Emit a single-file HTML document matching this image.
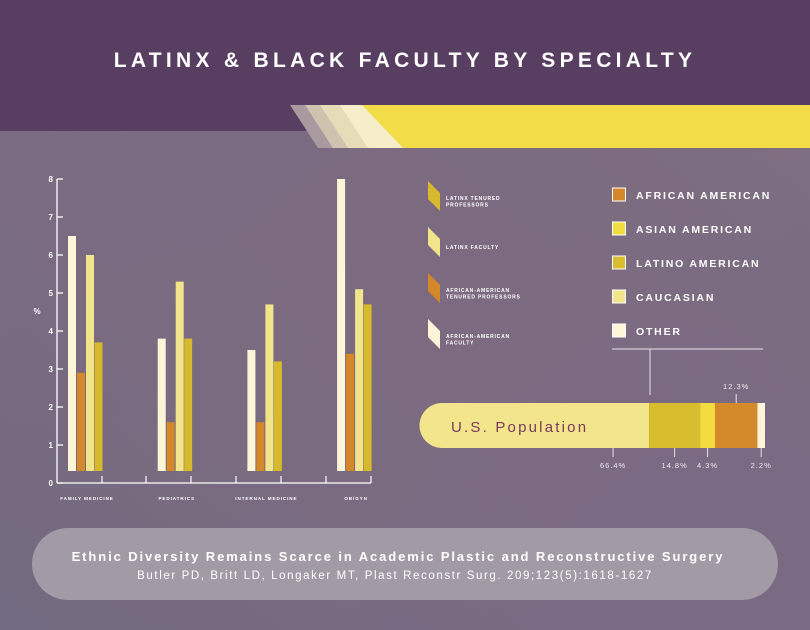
<!DOCTYPE html>
<html><head><meta charset="utf-8"><style>
html,body{margin:0;padding:0;width:810px;height:630px;overflow:hidden;font-family:"Liberation Sans",sans-serif}
</style></head><body>
<svg id="s" width="810" height="630" viewBox="0 0 810 630" xmlns="http://www.w3.org/2000/svg">
<defs>
<linearGradient id="bg" x1="0" y1="0" x2="1" y2="1">
<stop offset="0" stop-color="#7a6b84"/><stop offset="0.5" stop-color="#7c6b80"/><stop offset="1" stop-color="#7a6a85"/>
</linearGradient>
<linearGradient id="bg2" x1="0" y1="1" x2="1" y2="0">
<stop offset="0" stop-color="#6a6a80" stop-opacity="0.6"/><stop offset="0.5" stop-color="#7a6a80" stop-opacity="0"/><stop offset="1" stop-color="#85797f" stop-opacity="0.4"/>
</linearGradient>
</defs>
<rect width="810" height="630" fill="url(#bg)"/>
<rect width="810" height="630" fill="url(#bg2)"/>
<rect width="810" height="131" fill="#583f62"/>
<g>
<polygon points="290,105 340,105 368,148 318,148" fill="#a89a9e"/>
<polygon points="305,105 350,105 378,148 333,148" fill="#cfc3b0"/>
<polygon points="320,105 362,105 390,148 348,148" fill="#e6dcb8"/>
<polygon points="340,105 375,105 403,148 368,148" fill="#f6eec8"/>
<polygon points="362,105 810,105 810,148 403,148" fill="#f2dd48"/>
</g>
<text x="405" y="67" text-anchor="middle" fill="#fff" font-size="21" font-weight="bold" letter-spacing="4.3">LATINX &amp; BLACK FACULTY BY SPECIALTY</text>
<g id="chart"></g>
<g id="legL"></g>
<g id="legR"></g>
<g id="pop"></g>
<line x1="612" y1="349" x2="763" y2="349" stroke="#e8e0e8" stroke-width="1"/>
<line x1="650" y1="349" x2="650" y2="395" stroke="#e8e0e8" stroke-width="1"/>
<rect x="32" y="528" width="746" height="72" rx="36" fill="#a29aa5"/>
<text x="398" y="561" text-anchor="middle" fill="#fff" font-size="13" font-weight="bold" letter-spacing="1.9">Ethnic Diversity Remains Scarce in Academic Plastic and Reconstructive Surgery</text>
<text x="395" y="579" text-anchor="middle" fill="#fff" font-size="11.5" letter-spacing="1.6">Butler PD, Britt LD, Longaker MT, Plast Reconstr Surg. 209;123(5):1618-1627</text>
</svg>
<script>
const categories=["FAMILY MEDICINE","PEDIATRICS","INTERNAL MEDICINE","OB/GYN"];
const aaFaculty=[6.5,3.8,3.5,8.0];
const aaTenured=[2.9,1.6,1.6,3.4];
const latinxFaculty=[6.0,5.3,4.7,5.1];
const latinxTenured=[3.7,3.8,3.2,4.7];
const yTicks=[0,1,2,3,4,5,6,7,8];
const popLabels=["Caucasian","Latino American","Asian American","African American","Other"];
const popValues=[66.4,14.8,4.3,12.3,2.2];
const popTickText=["66.4%","14.8%","4.3%","12.3%","2.2%"];

const NS="http://www.w3.org/2000/svg";
function mk(tag,attrs,parent,txt){const e=document.createElementNS(NS,tag);for(const k in attrs)e.setAttribute(k,attrs[k]);if(txt!==undefined)e.textContent=txt;parent.appendChild(e);return e;}
const y=v=>483-v*38;
const gx=i=>68+i*89.7;
const chart=document.getElementById('chart');
let ax=mk('line',{x1:57,y1:179,x2:57,y2:483,stroke:'#fff','stroke-width':1.3},chart);


let bx=mk('line',{x1:57,y1:483,x2:371,y2:483,stroke:'#fff','stroke-width':1.3},chart);


yTicks.forEach(t=>{
  let l=mk('line',{x1:57,y1:y(t),x2:63,y2:y(t),stroke:'#fff','stroke-width':1.3},chart);
  
  
  let tx=mk('text',{x:53,y:y(t)+3,'text-anchor':'end',fill:'#fff','font-size':8,'font-weight':'bold'},chart,String(t));
  
  
});
let yt=mk('text',{x:37,y:314,'text-anchor':'middle',fill:'#fff','font-size':8,'font-weight':'bold'},chart,'%');


[102,146,191,236,281,326,371].forEach(px=>{
  let l=mk('line',{x1:px,y1:476,x2:px,y2:483,stroke:'#fff','stroke-width':1.2},chart);
  
  
});
const series=[[aaFaculty,'#fdf5d8',0],[aaTenured,'#d4882a',9],[latinxFaculty,'#f2e48a',18],[latinxTenured,'#d6b92c',26.5]];
categories.forEach((c,i)=>{
  series.forEach((s,j)=>{
    const v=s[0][i];
    let r=mk('rect',{x:gx(i)+s[2],y:y(v),width:8,height:471-y(v),fill:s[1]},chart);
    
    
  });
  let t=mk('text',{x:gx(i)+19,y:500,'text-anchor':'middle',fill:'#fff','font-size':4.6,'font-weight':'bold','letter-spacing':0.9},chart,c);
  
  
});
const legL=document.getElementById('legL');
const legItems=[['#d6b92c',['LATINX TENURED','PROFESSORS']],['#f2e48a',['LATINX FACULTY']],['#d4882a',['AFRICAN-AMERICAN','TENURED PROFESSORS']],['#fdf5d8',['AFRICAN-AMERICAN','FACULTY']]];
legItems.forEach((it,i)=>{
  const y0=181+i*46;
  let p=mk('polygon',{points:`428,${y0} 440,${y0+12} 440,${y0+30} 428,${y0+18}`,fill:it[0]},legL);
  
  
  const ty=it[1].length>1?y0+19:y0+22;
  it[1].forEach((ln,k)=>{
    let t=mk('text',{x:446,y:ty+k*6.5,fill:'#fff','font-size':5,'font-weight':'bold','letter-spacing':0.8},legL,ln);
    
    
  });
});
const legR=document.getElementById('legR');
const legRItems=[['#d4882a','AFRICAN AMERICAN'],['#f2dc40','ASIAN AMERICAN'],['#d8bd2e','LATINO AMERICAN'],['#f3e58b','CAUCASIAN'],['#fdf6d8','OTHER']];
legRItems.forEach((it,i)=>{
  const y0=188+i*34;
  let r=mk('rect',{x:612.5,y:y0,width:13,height:13,fill:it[0],stroke:'#fff','stroke-width':1},legR);
  
  
  let t=mk('text',{x:636,y:y0+11,fill:'#fff','font-size':10.5,'font-weight':'bold','letter-spacing':1.8},legR,it[1]);
  
  
});
const pop=document.getElementById('pop');
const px0=420,pw=345,py=403,ph=45;
const total=popValues.reduce((a,b)=>a+b,0);
const popColors=['#f3e58b','#d8bd2e','#f2dc40','#d48a2a','#fdf6d8'];
let acc=0;
popValues.forEach((v,i)=>{
  const x1=px0+acc/total*pw; acc+=v; const x2=px0+acc/total*pw;
  let seg;
  if(i===0){seg=mk('path',{d:`M${x2},${py} H${px0+22} A22.5,22.5 0 0 0 ${px0+22},${py+ph} H${x2} Z`,fill:popColors[i]},pop);}
  else seg=mk('rect',{x:x1,y:py,width:x2-x1,height:ph,fill:popColors[i]},pop);
  
  
  const cx=i===0?x2-36:(x1+x2)/2;
  if(i===3){
    mk('line',{x1:cx,y1:py-9,x2:cx,y2:py,stroke:'#e8e0e8','stroke-width':1},pop);
    let t=mk('text',{x:cx,y:py-14,'text-anchor':'middle',fill:'#f0e8f0','font-size':7.5,'letter-spacing':1},pop,popTickText[i]);
    
    
  } else {
    mk('line',{x1:cx,y1:py+ph,x2:cx,y2:py+ph+9,stroke:'#e8e0e8','stroke-width':1},pop);
    let t=mk('text',{x:cx,y:py+ph+20,'text-anchor':'middle',fill:'#f0e8f0','font-size':7.5,'letter-spacing':1},pop,popTickText[i]);
    
    
  }
});
let pt=mk('text',{x:451,y:432,fill:'#7a3a5e','font-size':15,'letter-spacing':2.2},pop,'U.S. Population');


</script>
</body></html>
